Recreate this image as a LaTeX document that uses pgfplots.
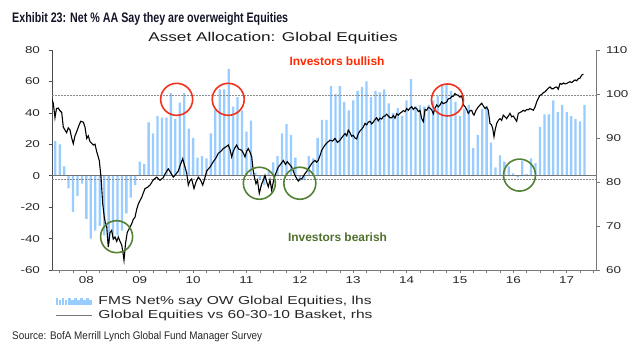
\documentclass[border=0pt]{standalone}
\usepackage{pgfplots}
\usepackage{pgfplotstable}
\pgfplotsset{compat=1.18}
\usepackage{fontspec}
\setmainfont{Liberation Sans}
\newfontfamily\chartfont[FakeStretch=1.35]{Liberation Sans}
\newfontfamily\plainfont{Liberation Sans}
\definecolor{barblue}{RGB}{153,204,255}
\definecolor{circred}{RGB}{240,50,30}
\definecolor{txtred}{RGB}{255,40,0}
\definecolor{circgreen}{RGB}{84,130,53}
\definecolor{txtgreen}{RGB}{80,110,45}
\definecolor{axgray}{RGB}{120,120,120}
\definecolor{titlecol}{RGB}{20,20,40}

% FMS net % overweight global equities (lhs), month index m: 0 = Jan 2008
\pgfplotstableread{
m v
-2 40
-1 22
0 20
1 6
2 -8
3 -23
4 -13
5 -5
6 -27.5
7 -40
8 -35
9 -32
10 -38
11 -43
12 -40
13 -38
14 -35
15 -24
16 -14
17 -6
18 9
19 7.5
20 34
21 27
22 38
23 37
24 37
25 52.5
26 36
27 46.5
28 52.5
29 30
30 24
31 11.5
32 12.5
33 11
34 27
35 42
36 55
37 55
38 68
39 44
40 50
41 41.5
42 28
43 35
44 2
45 -2
46 -6
47 3
48 8.5
49 12.5
50 27
51 33
52 26
53 11.5
54 -3.5
55 -3
56 12.5
57 11
58 24
59 35.5
60 35.5
61 57
62 52
63 57
64 47
65 41.5
66 48
67 54
68 56.5
69 60
70 50
71 54
72 53
73 55
74 46
75 40
76 43
77 38
78 48
79 61.5
80 44.5
81 45
82 44
83 45
84 48
85 51
86 57.5
87 58
88 54
89 47
90 38
91 42.5
92 45
93 17.5
94 26
95 42.5
96 44.5
97 21
98 5.3
99 13
100 9
101 6
102 1.5
103 -1
104 9.6
105 1
106 11
107 8
108 31
109 39
110 39
111 48
112 40.4
113 45
114 40.4
115 38
116 36
117 34.5
118 45
}\bardata

% Global equities vs 60-30-10 basket (rhs)
\pgfplotstableread{
m v
-1.79 98.8
-1.44 97.9
-1.06 94.6
-0.72 96.7
-0.31 96.8
0.07 96.2
0.45 95.8
0.81 92.5
1.19 91.8
1.57 91.2
1.93 92.3
2.32 91.8
2.70 90.0
3.06 88.7
3.44 90.5
3.82 91.4
4.23 92.6
4.72 93.8
5.31 93.6
5.69 92.5
6.07 89.9
6.43 90.5
6.81 89.2
7.56 88.4
7.94 88.6
8.32 86.9
8.90 84.9
9.29 81.1
9.67 75.1
10.03 72.0
10.30 70.5
10.57 69.8
10.93 65.2
11.31 68.5
11.69 69.0
12.05 67.0
12.44 67.5
12.82 66.5
13.18 67.5
13.56 66.5
13.94 65.7
14.23 64.0
14.46 62.2
14.80 66.0
15.20 68.6
15.70 69.5
16.19 70.5
16.55 71.5
16.93 72.0
17.32 73.8
17.68 75.0
18.06 75.8
18.44 76.5
18.80 77.5
19.18 78.5
19.74 78.8
20.31 79.3
21.05 80.5
21.81 81.1
22.55 80.4
23.30 81.0
23.79 82.0
24.42 83.0
25.03 82.0
25.55 81.1
26.15 81.8
26.67 82.5
27.16 84.0
27.66 85.3
28.18 83.4
28.56 82.0
28.92 79.3
29.30 80.3
29.68 80.7
30.20 78.5
30.65 80.0
31.17 81.1
31.66 80.5
32.16 79.3
32.56 80.6
33.06 82.5
33.80 83.4
34.54 84.6
35.15 85.5
35.66 86.5
36.27 87.0
36.79 87.6
37.40 88.0
37.91 88.4
38.30 87.4
38.68 85.7
39.04 87.0
39.42 87.8
39.80 88.4
40.21 87.5
40.93 87.2
41.33 86.5
41.67 85.7
42.05 87.0
42.41 87.6
42.79 86.8
43.18 85.7
43.47 83.0
43.70 81.5
44.14 79.6
44.48 80.4
44.88 77.4
45.42 79.6
45.83 80.5
46.17 81.5
46.55 80.0
46.91 78.9
47.29 80.5
47.67 78.1
48.03 80.0
48.41 81.5
48.80 82.5
49.16 83.4
49.65 84.0
50.28 84.9
50.78 84.0
51.18 84.6
51.68 84.0
52.17 83.4
52.53 82.5
52.91 81.5
53.29 80.8
53.65 80.2
54.04 80.7
54.42 80.7
54.78 81.3
55.16 81.9
55.54 82.4
55.90 83.0
56.29 83.6
56.67 84.2
57.03 84.6
57.41 84.9
57.79 84.5
58.15 84.9
58.53 86.0
58.92 87.2
59.28 87.8
59.66 88.4
60.22 89.0
60.78 89.5
61.35 89.3
61.91 89.9
62.47 89.0
63.03 89.5
63.59 90.3
64.16 91.0
64.54 90.5
64.90 91.8
65.28 91.2
65.66 90.4
66.02 90.6
66.40 90.0
66.79 89.8
67.15 91.0
67.53 91.6
67.91 92.0
68.27 92.5
68.65 93.3
69.04 93.0
69.40 93.6
69.78 93.8
70.16 93.2
70.52 93.6
70.90 94.2
71.28 94.6
71.64 93.9
72.03 94.5
72.41 94.3
72.77 94.9
73.15 95.0
73.53 95.4
73.89 95.0
74.27 94.6
74.66 94.6
75.02 95.1
75.40 94.5
75.78 95.5
76.14 95.2
76.52 95.6
76.91 95.9
77.27 96.2
77.65 96.0
78.03 96.7
78.39 96.3
78.77 96.8
79.16 97.1
79.52 96.5
79.90 96.9
80.28 96.7
80.64 96.0
81.02 96.3
81.40 94.4
81.77 93.7
82.15 96.5
82.53 96.3
82.89 97.0
83.27 96.8
83.65 96.4
84.01 95.5
84.40 96.8
84.78 97.5
85.14 97.1
85.52 97.5
85.90 98.2
86.26 97.8
86.64 98.0
87.03 98.2
87.39 98.9
87.77 99.0
88.15 99.4
88.51 99.5
88.89 100.1
89.28 99.8
89.64 99.7
90.02 99.3
90.40 99.5
90.63 98.6
90.81 97.5
91.15 97.1
91.52 96.5
91.88 95.6
92.27 96.2
92.65 96.3
92.94 95.5
93.17 95.2
93.62 96.3
94.14 97.1
94.52 97.5
94.90 97.9
95.26 97.3
95.64 96.7
96.02 97.0
96.38 96.3
96.76 93.3
97.10 93.0
97.37 92.2
97.66 90.3
97.95 92.0
98.27 93.3
98.63 94.0
99.01 94.4
99.39 94.0
99.75 95.2
100.13 94.8
100.51 94.4
100.87 95.0
101.26 95.6
101.64 94.8
102.00 95.0
102.38 94.4
102.77 93.8
103.13 95.6
103.51 95.8
103.89 96.0
104.25 96.3
104.63 96.1
105.01 96.5
105.37 96.4
105.75 96.7
106.14 96.5
106.50 96.3
106.88 97.0
107.26 98.2
107.62 99.0
108.00 99.7
108.39 99.9
108.75 100.3
109.13 100.5
109.51 100.9
109.87 101.3
110.26 101.6
110.64 101.2
111.00 101.2
111.38 101.5
111.76 101.6
112.12 101.1
112.51 102.4
112.89 102.2
113.25 102.5
113.63 102.3
114.01 102.4
114.37 102.6
114.76 102.8
115.14 102.6
115.50 102.9
115.88 103.2
116.26 103.0
116.62 103.5
117.01 103.6
117.39 104.3
117.77 104.5
}\linedata

\begin{document}
\begin{tikzpicture}
\useasboundingbox (0,0) rectangle (634bp,352bp);

\begin{axis}[
  at={(52bp,82bp)}, anchor=south west,
  scale only axis, width=544bp, height=220bp,
  xmin=-1.73, xmax=120.6, ymin=-60, ymax=80,
  axis x line*=bottom, axis y line*=left,
  axis line style={-},
  x axis line style={axgray, line width=0.8bp},
  y axis line style={black!70, line width=0.8bp},
  xtick={0,3,...,120},
  xticklabels={,,08,,,,09,,,,10,,,,11,,,,12,,,,13,,,,14,,,,15,,,,16,,,,17,,,},
  x tick style={axgray, line width=0.6bp},
  ytick={-60,-40,...,80},
  y tick style={black!70, line width=0.6bp},
  tick align=outside,
  major tick length=3.5bp,
  /pgf/number format/assume math mode=true,
  tick label style={font=\chartfont\fontsize{10}{12}\selectfont, text=black!85},
  yticklabel style={xshift=-5bp},
  legend style={at={(axis description cs:0.0055,-0.112)}, anchor=north west,
    draw=none, fill=none, inner sep=0pt,
    font=\chartfont\fontsize{11.6}{13}\selectfont, text=black!85,
    row sep=1.0bp,
    nodes={inner sep=1bp, text height=8.5bp, text depth=2.5bp},
    /tikz/every odd column/.append style={column sep=5bp}},
  legend cell align=left,
]
\addlegendimage{legend image code/.code={
  \foreach \i/\h in {0/6,1/4,2/6.5,3/4.5,4/6,5/4,6/6.5,7/4.5,8/6,9/4,10/6.5,11/4.5}{
    \fill[barblue] (\i*3.05bp,-3bp) rectangle ++(1.7bp,\h bp);
  }}}
\addlegendentry{FMS Net\% say OW Global Equities, lhs}
\addlegendimage{legend image code/.code={
  \draw[axgray, line width=1.3bp] (0bp,0bp) -- (36bp,0bp);}}
\addlegendentry{Global Equities vs 60-30-10 Basket, rhs}

\addplot[ybar, bar width=2.3bp, fill=barblue, draw=none, forget plot] table[x=m,y=v]{\bardata};
\addplot[forget plot, black!55, line width=0.8bp] coordinates {(-1.73,0) (120.6,0)};
\addplot[forget plot, black!45, line width=0.7bp, dash pattern=on 1.5bp off 1.5bp] coordinates {(-1.73,51) (120.6,51)};
\addplot[forget plot, black!45, line width=0.7bp, dash pattern=on 1.5bp off 1.5bp] coordinates {(-1.73,-2.5) (120.6,-2.5)};

\coordinate (r1) at (axis cs:26.3,48.6);
\coordinate (r2) at (axis cs:37.9,48.6);
\coordinate (r3) at (axis cs:87.2,48.2);
\coordinate (g1) at (axis cs:12.8,-38.8);
\coordinate (g2) at (axis cs:44.9,-4.8);
\coordinate (g3) at (axis cs:54.0,-4.8);
\coordinate (g4) at (axis cs:103.4,0.4);
\end{axis}

\begin{axis}[
  at={(52bp,82bp)}, anchor=south west,
  scale only axis, width=544bp, height=220bp,
  xmin=-1.73, xmax=120.6, ymin=60, ymax=110,
  axis y line*=right, axis x line=none,
  axis line style={-},
  y axis line style={axgray, line width=0.8bp},
  ytick={60,70,...,110},
  y tick style={axgray, line width=0.6bp},
  tick align=outside,
  major tick length=3.5bp,
  /pgf/number format/assume math mode=true,
  tick label style={font=\chartfont\fontsize{10}{12}\selectfont, text=black!85},
  yticklabel style={xshift=3bp},
]
\addplot[black, line width=1.1bp, forget plot] table[x=m,y=v]{\linedata};
\end{axis}

\foreach \c in {r1,r2,r3}{\draw[circred, line width=1.6bp] (\c) circle[radius=16bp];}
\foreach \c in {g1,g2,g3,g4}{\draw[circgreen, line width=1.6bp] (\c) circle[radius=16bp];}

\node[anchor=base, text=txtred, font=\plainfont\bfseries\fontsize{12}{14}\selectfont] at (337bp,286.3bp) {Investors bullish};
\node[anchor=base, text=txtgreen, font=\plainfont\bfseries\fontsize{12}{14}\selectfont] at (337.5bp,110.3bp) {Investors bearish};

\node[anchor=base, inner sep=0pt, font=\chartfont\fontsize{12.8}{15}\selectfont, text=black!90] at (273bp,310bp) {Asset Allocation: Global Equities};

\node[anchor=base west, inner sep=0pt, text=titlecol] at (12bp,329bp) {\resizebox{276bp}{10bp}{\plainfont\bfseries Exhibit 23: Net \% AA Say they are overweight Equities}};

\node[anchor=base west, inner sep=0pt, text=black!85] at (12bp,12bp) {\resizebox{250bp}{8bp}{\plainfont Source: BofA Merrill Lynch Global Fund Manager Survey}};
\end{tikzpicture}
\end{document}
